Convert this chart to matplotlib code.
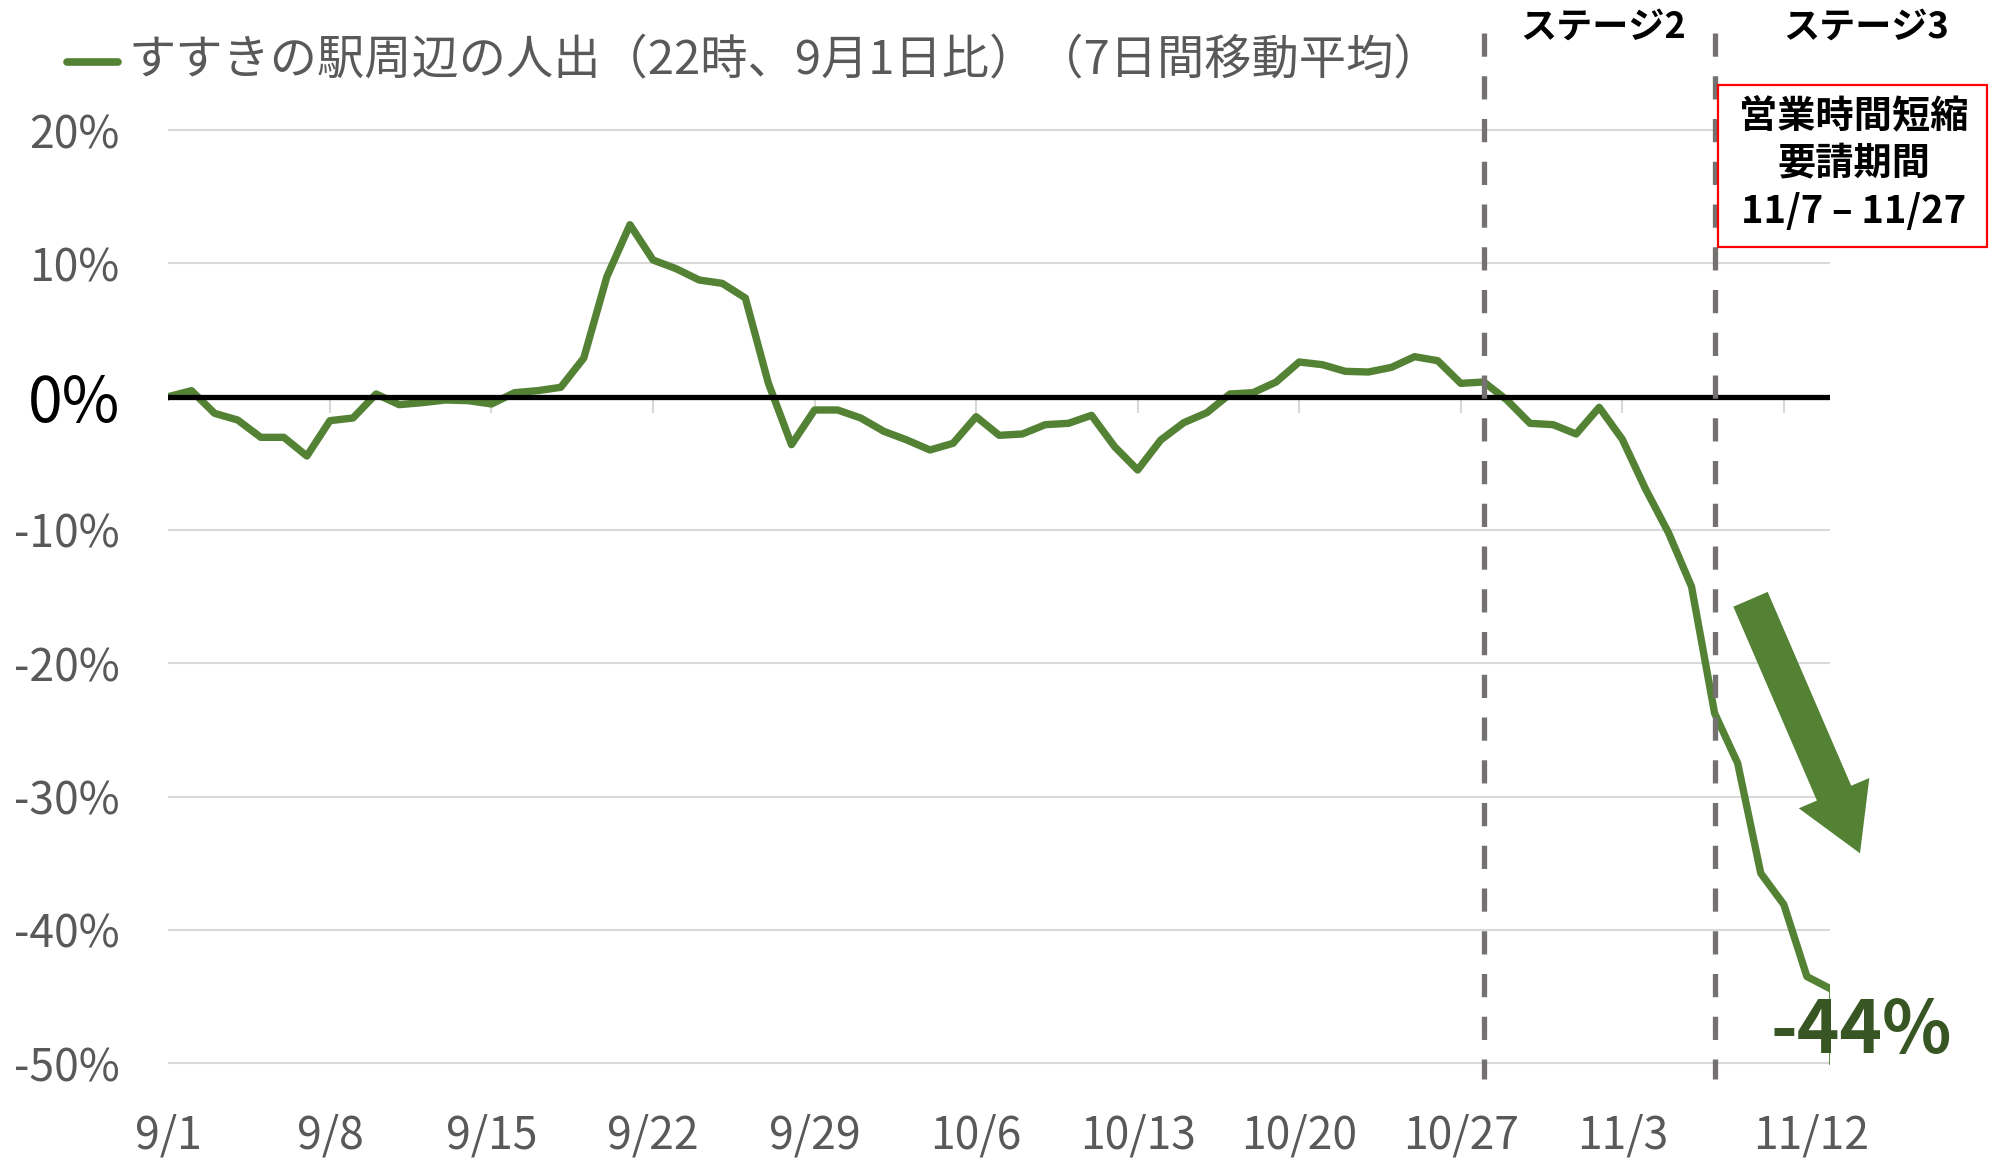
import matplotlib
matplotlib.use("Agg")
import matplotlib.pyplot as plt
from matplotlib.patches import FancyArrow, Rectangle
from matplotlib.lines import Line2D
import numpy as np

plt.rcParams['font.family'] = ['Noto Sans CJK JP', 'DejaVu Sans']

# 7-day moving average of people around Susukino station (22h, vs 9/1), % per day from 9/1 to 11/12
values = [0.0, 0.45, -1.25, -1.75, -3.05, -3.05, -4.45, -1.8, -1.6, 0.2,
          -0.6, -0.45, -0.25, -0.3, -0.55, 0.3, 0.45, 0.7, 2.9, 9.0,
          12.9, 10.25, 9.6, 8.75, 8.5, 7.4, 1.0, -3.6, -1.0, -1.0,
          -1.6, -2.6, -3.25, -4.0, -3.5, -1.5, -2.9, -2.8, -2.1, -2.0,
          -1.4, -3.75, -5.5, -3.25, -1.95, -1.2, 0.2, 0.3, 1.1, 2.6,
          2.4, 1.9, 1.85, 2.2, 3.0, 2.7, 1.0, 1.1, -0.25, -2.0,
          -2.1, -2.8, -0.8, -3.2, -6.9, -10.2, -14.25, -23.75, -27.5, -35.75,
          -38.1, -43.5, -44.4]
axis_min = -50

tick_labels = ['9/1', '9/8', '9/15', '9/22', '9/29', '10/6', '10/13', '10/20', '10/27', '11/3', '11/12']
y_ticks = [20, 10, 0, -10, -20, -30, -40, -50]
stage_dates = ['10/28', '11/7']
stage_names = ['ステージ2', 'ステージ3']
legend_label = 'すすきの駅周辺の人出（22時、9月1日比）（7日間移動平均）'
box_lines = ['営業時間短縮', '要請期間', '11/7 – 11/27']
last_label = '-44%'

GREEN = '#548235'
GRAY = '#595959'


def day_of(s):
    m, d = map(int, s.split('/'))
    return {9: 0, 10: 30, 11: 61}[m] + d - 1


days = np.arange(len(values))
W, H = 1990, 1159
fig = plt.figure(figsize=(W / 100, H / 100), dpi=100)
ax = fig.add_axes([168.4 / W, 1 - 1103.2 / H, (1830 - 168.4) / W, (1103.2 - 23.4) / H])
ax.set_xlim(0, 72)
ax.set_ylim(-53, 28)
for s in ax.spines.values():
    s.set_visible(False)

for v in y_ticks:
    if v != 0:
        ax.axhline(v, color='#D9D9D9', lw=1.5, zorder=1)

# small tick marks under the zero line
ax.vlines(np.arange(7, 71, 7), -1.2, 0, color='#D9D9D9', lw=1.5, zorder=1)

ax.plot(days, values, color=GREEN, lw=5.3, zorder=3)
# drop line at the end down to axis minimum
ax.plot([days[-1], days[-1]], [values[-1], axis_min], color=GREEN, lw=2, zorder=3)
ax.plot(days, np.zeros(len(days)), color='black', lw=3.8, zorder=4)

for sd in stage_dates:
    x = day_of(sd)
    ax.plot([x, x], [27.3, -51.2], color='#767171', lw=3.8, dashes=(4.4, 3.7),
            zorder=5, clip_on=False, dash_capstyle='butt')

ax.set_yticks(y_ticks, [f'{v}%' for v in y_ticks])
ax.tick_params(axis='y', length=0, pad=35, labelsize=32, labelcolor=GRAY)
for lab in ax.get_yticklabels():
    if lab.get_text() == '0%':
        lab.set_fontsize(45)
        lab.set_color('black')

xpos = [day_of(t) for t in tick_labels]
xpos[-1] -= 0.8
ax.set_xticks(xpos, tick_labels)
ax.tick_params(axis='x', length=0, pad=7, labelsize=32, labelcolor=GRAY)

# legend
fig.add_artist(Line2D([67 / W, 118 / W], [1 - 62 / H] * 2, color=GREEN, lw=5.5, solid_capstyle='round'))
fig.text(128 / W, 1 - 73 / H, legend_label, fontsize=34, color=GRAY, ha='left', va='baseline')

# stage labels
for x, name in zip([1603, 1866], stage_names):
    fig.text(x / W, 1 - 27.5 / H, name, fontsize=26, weight='bold', ha='center', va='center')

# red box
fig.add_artist(Rectangle((1718 / W, 1 - 247 / H), (1987 - 1718) / W, (247 - 85) / H,
                         transform=fig.transFigure, fc='white', ec='#FF0000', lw=1.6, zorder=6))
for y, t in zip([117, 163, 211], box_lines):
    fig.text(1854 / W, 1 - y / H, t, fontsize=27.5, weight='bold', ha='center', va='center', zorder=7)

# big arrow
fig.add_artist(FancyArrow(17.505, 5.597, 1.095, -2.54, width=0.374, head_width=0.768,
                          head_length=0.655, length_includes_head=True, color=GREEN, lw=0,
                          transform=fig.dpi_scale_trans))

fig.text(1861 / W, 1 - 1053 / H, last_label, fontsize=52, weight='bold', color='#375623',
         ha='center', va='baseline', zorder=8)

fig.savefig('out.png', dpi=100)
